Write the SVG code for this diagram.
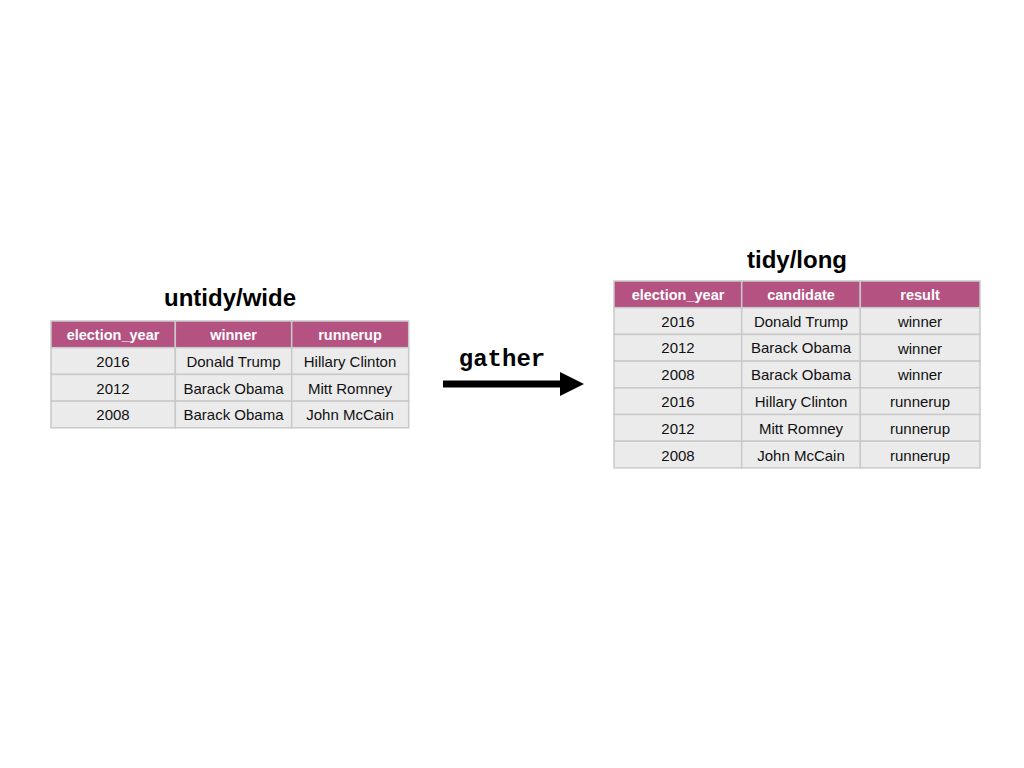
<svg xmlns="http://www.w3.org/2000/svg" width="1024" height="768" viewBox="0 0 1024 768">
<style>
.hd{fill:#B45282;stroke:#C9C9C9;stroke-width:1.5}
.cell{fill:#EBEBEB;stroke:#C9C9C9;stroke-width:1.5}
.ht{font-family:"Liberation Sans",Arial,sans-serif;font-size:14.5px;font-weight:bold;fill:#FFFFFF;text-anchor:middle}
.ct{font-family:"Liberation Sans",Arial,sans-serif;font-size:15px;fill:#111111;text-anchor:middle}
.title{font-family:"Liberation Sans",Arial,sans-serif;font-size:24px;font-weight:bold;fill:#000;text-anchor:middle}
.code{font-family:"Liberation Mono","Courier New",monospace;font-size:24px;font-weight:bold;fill:#000;text-anchor:middle}
</style>
<rect width="1024" height="768" fill="#FFFFFF"/>
<g id="untidy-wide">
<text class="title" x="230" y="306">untidy/wide</text>
<rect class="hd" x="51" y="321" width="124.3" height="26.7"/>
<rect class="hd" x="175.3" y="321" width="116.4" height="26.7"/>
<rect class="hd" x="291.7" y="321" width="117" height="26.7"/>
<text class="ht" x="113" y="340">election_year</text>
<text class="ht" x="233.5" y="340">winner</text>
<text class="ht" x="350" y="340">runnerup</text>
<rect class="cell" x="51" y="347.7" width="124.3" height="26.7"/>
<rect class="cell" x="175.3" y="347.7" width="116.4" height="26.7"/>
<rect class="cell" x="291.7" y="347.7" width="117" height="26.7"/>
<rect class="cell" x="51" y="374.4" width="124.3" height="26.7"/>
<rect class="cell" x="175.3" y="374.4" width="116.4" height="26.7"/>
<rect class="cell" x="291.7" y="374.4" width="117" height="26.7"/>
<rect class="cell" x="51" y="401.1" width="124.3" height="26.7"/>
<rect class="cell" x="175.3" y="401.1" width="116.4" height="26.7"/>
<rect class="cell" x="291.7" y="401.1" width="117" height="26.7"/>
<text class="ct" x="113" y="367">2016</text>
<text class="ct" x="233.5" y="367">Donald Trump</text>
<text class="ct" x="350" y="367">Hillary Clinton</text>
<text class="ct" x="113" y="394">2012</text>
<text class="ct" x="233.5" y="394">Barack Obama</text>
<text class="ct" x="350" y="394">Mitt Romney</text>
<text class="ct" x="113" y="420">2008</text>
<text class="ct" x="233.5" y="420">Barack Obama</text>
<text class="ct" x="350" y="420">John McCain</text>
</g>
<g id="tidy-long">
<text class="title" x="797" y="268">tidy/long</text>
<rect class="hd" x="614" y="281" width="127.7" height="26.7"/>
<rect class="hd" x="741.7" y="281" width="118.6" height="26.7"/>
<rect class="hd" x="860.3" y="281" width="119.7" height="26.7"/>
<text class="ht" x="678" y="300">election_year</text>
<text class="ht" x="801" y="300">candidate</text>
<text class="ht" x="920" y="300">result</text>
<g>
<rect class="cell" x="614" y="307.7" width="127.7" height="26.7"/>
<rect class="cell" x="741.7" y="307.7" width="118.6" height="26.7"/>
<rect class="cell" x="860.3" y="307.7" width="119.7" height="26.7"/>
<rect class="cell" x="614" y="334.4" width="127.7" height="26.7"/>
<rect class="cell" x="741.7" y="334.4" width="118.6" height="26.7"/>
<rect class="cell" x="860.3" y="334.4" width="119.7" height="26.7"/>
<rect class="cell" x="614" y="361.1" width="127.7" height="26.7"/>
<rect class="cell" x="741.7" y="361.1" width="118.6" height="26.7"/>
<rect class="cell" x="860.3" y="361.1" width="119.7" height="26.7"/>
<rect class="cell" x="614" y="387.8" width="127.7" height="26.7"/>
<rect class="cell" x="741.7" y="387.8" width="118.6" height="26.7"/>
<rect class="cell" x="860.3" y="387.8" width="119.7" height="26.7"/>
<rect class="cell" x="614" y="414.5" width="127.7" height="26.7"/>
<rect class="cell" x="741.7" y="414.5" width="118.6" height="26.7"/>
<rect class="cell" x="860.3" y="414.5" width="119.7" height="26.7"/>
<rect class="cell" x="614" y="441.2" width="127.7" height="26.7"/>
<rect class="cell" x="741.7" y="441.2" width="118.6" height="26.7"/>
<rect class="cell" x="860.3" y="441.2" width="119.7" height="26.7"/>
</g>
<text class="ct" x="678" y="327">2016</text>
<text class="ct" x="801" y="327">Donald Trump</text>
<text class="ct" x="920" y="327">winner</text>
<text class="ct" x="678" y="353">2012</text>
<text class="ct" x="801" y="353">Barack Obama</text>
<text class="ct" x="920" y="354">winner</text>
<text class="ct" x="678" y="380">2008</text>
<text class="ct" x="801" y="380">Barack Obama</text>
<text class="ct" x="920" y="380">winner</text>
<text class="ct" x="678" y="407">2016</text>
<text class="ct" x="801" y="407">Hillary Clinton</text>
<text class="ct" x="920" y="407">runnerup</text>
<text class="ct" x="678" y="434">2012</text>
<text class="ct" x="801" y="434">Mitt Romney</text>
<text class="ct" x="920" y="434">runnerup</text>
<text class="ct" x="678" y="461">2008</text>
<text class="ct" x="801" y="461">John McCain</text>
<text class="ct" x="920" y="461">runnerup</text>
</g>
<g id="connectors">
<line x1="443" y1="384" x2="562" y2="384" stroke="#000" stroke-width="7"/>
<polygon points="560,372 584,384 560,396" fill="#000"/>
<text class="code" x="502" y="366">gather</text>
</g>
</svg>
